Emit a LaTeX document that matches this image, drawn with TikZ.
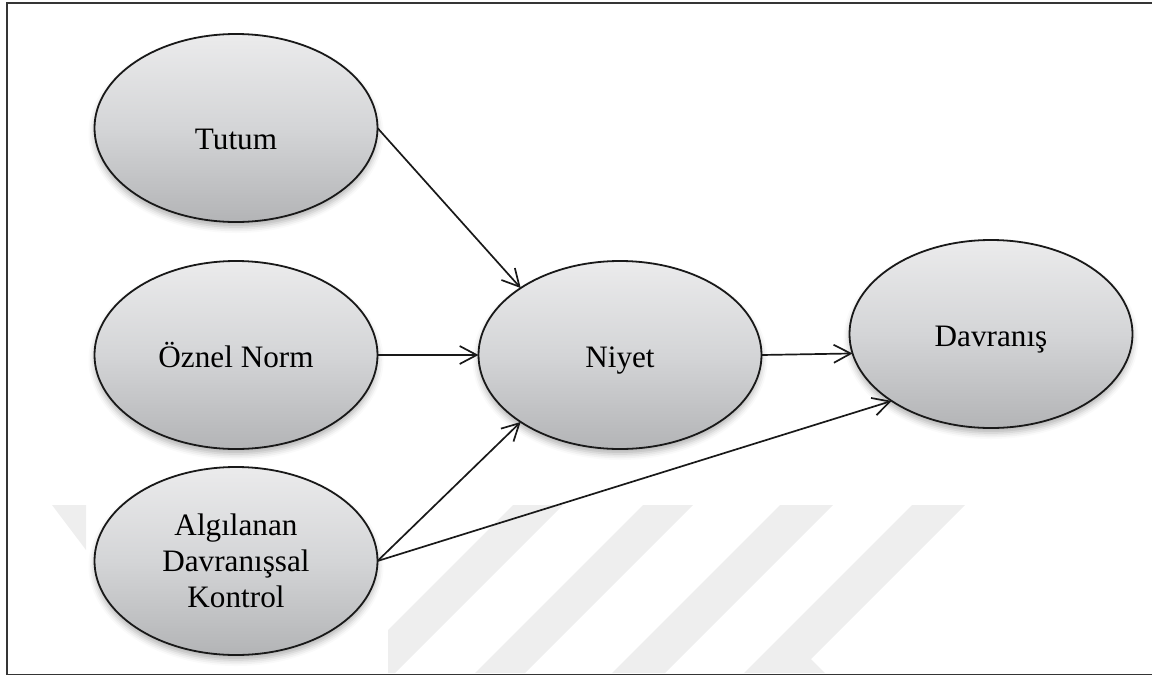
\documentclass[tikz,border=0pt]{standalone}
\usepackage{fontspec}
\setmainfont{Liberation Serif}
\usetikzlibrary{shapes.geometric, arrows.meta, shadows.blur}

\definecolor{ovaltop}{HTML}{EBEBEC}
\definecolor{ovalmid}{HTML}{D4D5D7}
\definecolor{ovalbot}{HTML}{B3B4B6}
\definecolor{framecol}{HTML}{353535}
\definecolor{wmcol}{HTML}{EEEEEE}

\begin{document}
\begin{tikzpicture}[x=0.5pt, y=-0.5pt,
  oval/.style={ellipse, draw=black!90, line width=0.9pt,
    minimum width=141.5pt, minimum height=94pt, inner sep=0pt, outer sep=0pt,
    top color=ovaltop, bottom color=ovalbot, middle color=ovalmid,
    blur shadow={shadow xshift=0pt, shadow yshift=-2.5pt,
      shadow blur radius=3pt, shadow opacity=30},
    font=\fontsize{15.6pt}{18pt}\selectfont},
  oneline/.style={text height=12.2pt, text depth=0pt},
  link/.style={line width=0.85pt, draw=black!90,
    -{Straight Barb[length=8.5pt, width=9pt, line width=0.85pt]}},
  wmark/.style={fill=wmcol, draw=none}]

  % page area and frame
  \path[use as bounding box, clip] (0,0) rectangle (1152,675);
  \draw[framecol, line width=1pt] (7,3.3) rectangle (1175,674.5);

  % faint background logo stripes
  \fill[wmark] (52,505) -- (86,505) -- (86,550) -- cycle;
  \fill[wmark] (513,505) -- (563,505) -- (395,673) -- (388,673) -- (388,630) -- cycle;
  \fill[wmark] (643,505) -- (693,505) -- (525,673) -- (475,673) -- cycle;
  \fill[wmark] (780,505) -- (833,505) -- (665,673) -- (612,673) -- cycle;
  \fill[wmark] (912,505) -- (965,505) -- (811,659) -- (825,673) -- (744,673) -- cycle;

  % concepts
  \node[oval, text height=21pt, text depth=0pt] (tutum) at (236,128) {Tutum};
  \node[oval, oneline] (oznel) at (236,355) {Öznel Norm};
  \node[oval, align=center] (algilanan) at (236,561)
    {Algılanan\\Davranışsal\\Kontrol};
  \node[oval, oneline] (niyet) at (620,355) {Niyet};
  \node[oval, oneline] (davranis) at (991,334) {Davranış};

  % relations
  \draw[link] (tutum.east) -- (niyet.146);
  \draw[link] (oznel.east) -- (niyet.west);
  \draw[link] (algilanan.east) -- (niyet.214);
  \draw[link] (niyet.east) -- (davranis.188.6);
  \draw[link] (algilanan.east) -- (davranis.214);
\end{tikzpicture}
\end{document}
